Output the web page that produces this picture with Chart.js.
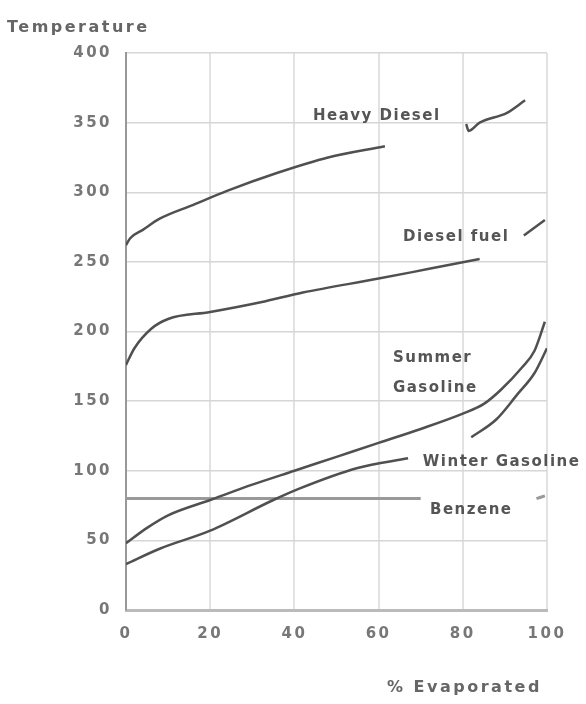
<!DOCTYPE html>
<html>
<head>
<meta charset="utf-8">
<script src="https://cdn.jsdelivr.net/npm/chart.js@4"></script>
<style>
  html, body { margin: 0; padding: 0; background: #fff; }
  #wrap { width: 586px; height: 704px; }
  #grafico { filter: blur(0.7px); }
</style>
</head>
<body>
<div id="wrap"><canvas id="grafico"></canvas></div>
<script>
// percent evaporated vs temperature, null = gap where the label sits
const heavyDieselPct  = [0, 1, 4, 8, 16, 24, 36, 48, 61.5, null, 80.8, 81.4, 84, 90.5, 94.8];
const heavyDieselTemp = [262, 267, 273, 281, 291, 301, 314, 325, 333, null, 349, 344, 350, 357, 366];

const dieselPct  = [0, 2, 6, 10, 20, 32, 42, 60, 72, 84, null, 94.5, 99.5];
const dieselTemp = [176, 188, 202, 209, 214, 221, 228, 238, 245, 252, null, 269, 280];

const summerPct  = [0, 5, 10, 20, 30, 40, 50, 60, 70, 80, 85, 89, 94, 97, 99.5];
const summerTemp = [48, 59, 68, 79, 90, 100, 110, 120, 130, 141, 148, 158, 174, 186, 207];

const winterPct  = [0, 8, 20, 35, 41, 55, 67, null, 82, 88, 93, 97, 100];
const winterTemp = [33, 44, 57, 79, 87, 102, 109, null, 124, 137, 155, 170, 188];

const benzenePct  = [0, 70, null, 97.5, 99.5];
const benzeneTemp = [80, 80, null, 80, 82];

const xTicks = [0, 20, 40, 60, 80, 100];
const yTicks = [0, 50, 100, 150, 200, 250, 300, 350, 400];

// curve labels, anchored in data units (left edge, middle)
const rotulos = [
    { texto: 'Heavy Diesel', x: 44.4, y: 355 },
    { texto: 'Diesel fuel', x: 65.8, y: 268 },
    { texto: 'Summer', x: 63.4, y: 181 },
    { texto: 'Gasoline', x: 63.4, y: 159 },
    { texto: 'Winter Gasoline', x: 70.5, y: 106 },
    { texto: 'Benzene', x: 72.2, y: 72 }
];

function pontos(xs, ys) {
    return xs.map((x, i) => x === null ? { x: null, y: null } : { x: x, y: ys[i] });
}

function serie(nome, xs, ys, cor, largura) {
    return {
        label: nome,
        data: pontos(xs, ys),
        borderColor: cor,
        borderWidth: largura,
        pointRadius: 0,
        fill: false,
        spanGaps: false,
        cubicInterpolationMode: 'monotone'
    };
}

const fonte = '"DejaVu Sans", sans-serif';

const ctx = document.getElementById('grafico').getContext('2d');

new Chart(ctx, {
    type: 'line',
    data: {
        datasets: [
            serie('Heavy Diesel', heavyDieselPct, heavyDieselTemp, '#505050', 2.5),
            serie('Diesel fuel', dieselPct, dieselTemp, '#505050', 2.5),
            serie('Summer Gasoline', summerPct, summerTemp, '#505050', 2.5),
            serie('Winter Gasoline', winterPct, winterTemp, '#505050', 2.5),
            serie('Benzene', benzenePct, benzeneTemp, '#999', 3)
        ]
    },
    options: {
        responsive: true,
        maintainAspectRatio: false,
        animation: false,
        layout: { padding: { left: 0, top: 53, right: 39, bottom: 0 } },
        plugins: {
            legend: { display: false },
            tooltip: { enabled: false }
        },
        scales: {
            x: {
                type: 'linear',
                min: 0,
                max: 100,
                afterFit(scale) { scale.height = 94; },
                afterBuildTicks(scale) { scale.ticks = xTicks.map(v => ({ value: v })); },
                grid: { color: '#e2e2e2', lineWidth: 2, drawTicks: false },
                border: { color: '#bbb', width: 3 },
                ticks: {
                    padding: 15,
                    color: '#777',
                    font: { family: fonte, size: 15, weight: 'bold' }
                }
            },
            y: {
                min: 0,
                max: 400,
                afterFit(scale) { scale.width = 126; },
                afterBuildTicks(scale) { scale.ticks = yTicks.map(v => ({ value: v })); },
                grid: { color: '#d6d6d6', lineWidth: 1.5, drawTicks: false },
                border: { color: '#999', width: 2 },
                ticks: {
                    padding: 14,
                    color: '#777',
                    font: { family: fonte, size: 15, weight: 'bold' }
                }
            }
        }
    },
    plugins: [{
        id: 'espacamento',
        beforeDraw(chart) {
            chart.ctx.letterSpacing = '2.5px';
        }
    }, {
        id: 'textos',
        afterDraw(chart) {
            const c = chart.ctx;
            const sx = chart.scales.x;
            const sy = chart.scales.y;
            c.save();
            c.fillStyle = '#555';
            c.textBaseline = 'middle';
            c.textAlign = 'left';
            c.font = 'bold 15px ' + fonte;
            c.letterSpacing = '1.5px';
            rotulos.forEach(r => {
                c.fillText(r.texto, sx.getPixelForValue(r.x), sy.getPixelForValue(r.y));
            });
            // axis titles
            c.fillStyle = '#666';
            c.font = 'bold 16px ' + fonte;
            c.letterSpacing = '2.5px';
            c.fillText('Temperature', 7, 28);
            c.fillText('% Evaporated', 387, 688);
            c.restore();
        }
    }]
});
</script>
</body>
</html>
